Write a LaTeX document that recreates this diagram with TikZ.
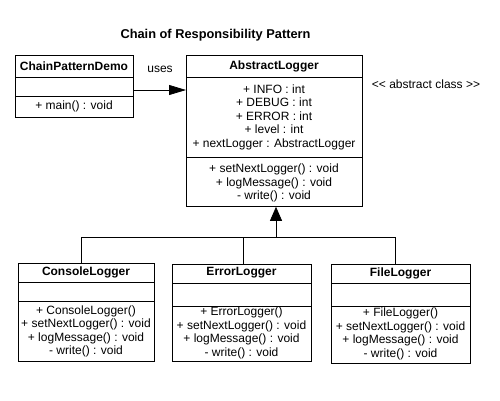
\documentclass[tikz,border=0pt]{standalone}
\usepackage{fontspec}
\setmainfont{Liberation Sans}
\usetikzlibrary{arrows.meta}
\tikzset{
  classbox/.style={draw, fill=white, anchor=north west, inner sep=0pt},
  classname/.style={font=\bfseries, inner sep=0pt},
  members/.style={align=center, inner sep=0pt},
  usesarrow/.style={-{Triangle[length=17pt,width=10pt]}},
  inherits/.style={-{Triangle[length=14pt,width=12pt]}}
}

\begin{document}
\begin{tikzpicture}[x=1pt, y=-1pt, line width=0.8pt]

  \fontsize{12}{13.5}\selectfont
  \useasboundingbox (0,0) rectangle (500,400);

  \node[font=\fontsize{12.8}{14}\selectfont\bfseries] (title) at (215.5,35) {Chain of Responsibility Pattern};

  % ChainPatternDemo
  \node[classbox, minimum width=118pt, minimum height=62pt] (demo) at (15,55) {};
  \draw (demo.west |- 0,77) -- (demo.east |- 0,77);
  \draw (demo.west |- 0,96) -- (demo.east |- 0,96);
  \node[classname] (demoname) at (74,66) {ChainPatternDemo};
  \node[members] (demoops) at (74,106) {+ main() : void};

  % AbstractLogger
  \node[classbox, minimum width=176pt, minimum height=151pt] (abs) at (186,55) {};
  \draw (abs.west |- 0,77) -- (abs.east |- 0,77);
  \draw (abs.west |- 0,157) -- (abs.east |- 0,157);
  \node[classname] (absname) at (274,66) {AbstractLogger};
  \node[members] (absattrs) at (274,117.3) {+ INFO : int\\+ DEBUG : int\\+ ERROR : int\\+ level : int\\+ nextLogger : AbstractLogger};
  \node[members] (absops) at (274,183) {+ setNextLogger() : void\\+ logMessage() : void\\- write() : void};
  \node (abslabel) at (426,84) {<{}< abstract class >{}>};

  % ConsoleLogger
  \node[classbox, minimum width=136pt, minimum height=98pt] (cons) at (18,263) {};
  \draw (cons.west |- 0,282) -- (cons.east |- 0,282);
  \draw (cons.west |- 0,301) -- (cons.east |- 0,301);
  \node[classname] (consname) at (86,272.5) {ConsoleLogger};
  \node[members] (consops) at (86,331.5) {+ ConsoleLogger()\\+ setNextLogger() : void\\+ logMessage() : void\\- write() : void};

  % ErrorLogger
  \node[classbox, minimum width=139pt, minimum height=97pt] (err) at (172,264) {};
  \draw (err.west |- 0,283) -- (err.east |- 0,283);
  \draw (err.west |- 0,306) -- (err.east |- 0,306);
  \node[classname] (errname) at (241.5,273) {ErrorLogger};
  \node[members] (errops) at (241.5,333) {+ ErrorLogger()\\+ setNextLogger() : void\\+ logMessage() : void\\- write() : void};

  % FileLogger
  \node[classbox, minimum width=139pt, minimum height=99pt] (file) at (331,264) {};
  \draw (file.west |- 0,283) -- (file.east |- 0,283);
  \draw (file.west |- 0,306) -- (file.east |- 0,306);
  \node[classname] (filename) at (400.5,273.5) {FileLogger};
  \node[members] (fileops) at (400.5,334) {+ FileLogger()\\+ setNextLogger() : void\\+ logMessage() : void\\- write() : void};

  % uses
  \draw[usesarrow] (demo.east |- 0,90) -- (abs.west |- 0,90);
  \node (useslabel) at (160,69) {uses};

  % inheritance
  \coordinate (bar) at (276,237);
  \draw[inherits] (bar) -- (bar |- abs.south);
  \draw (cons.north -| 81,0) |- (bar);
  \draw (file.north -| 395,0) |- (bar);
  \draw (err.north -| 243,0) -- (243,237);

\end{tikzpicture}
\end{document}
